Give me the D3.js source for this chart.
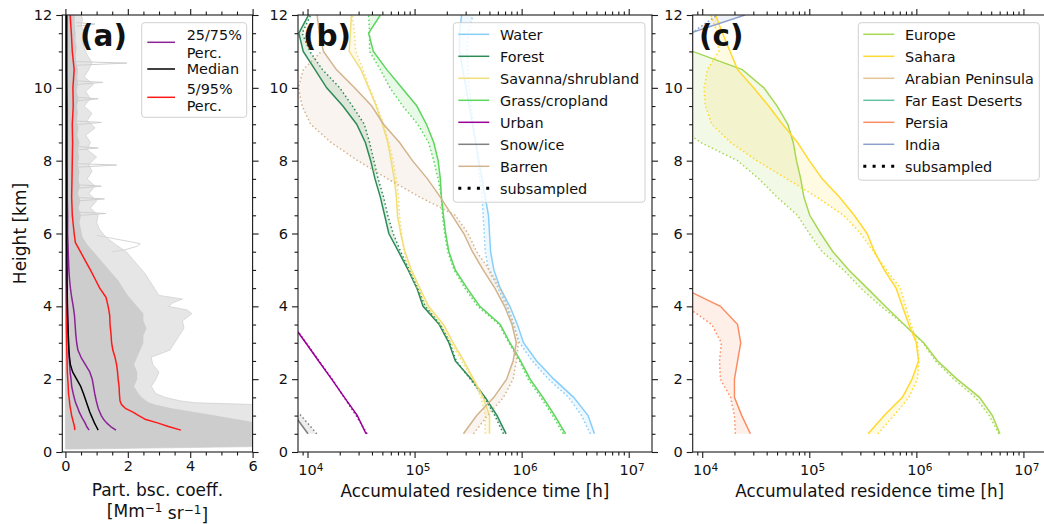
<!DOCTYPE html>
<html>
<head>
<meta charset="utf-8">
<script src="https://cdn.jsdelivr.net/npm/d3@7/dist/d3.min.js"></script>
<style>
  html, body { margin: 0; padding: 0; background: #fff; }
  svg { display: block; }
  text { font-family: "DejaVu Sans", sans-serif; fill: #111; }
</style>
</head>
<body>
<svg id="fig" width="1044" height="524"></svg>
<script>
// ---------------- (a) particle backscatter profiles ----------------
const pctHeights = [0.6,0.7,0.8,0.9,1.0,1.1,1.2,1.3,1.4,1.6,1.8,2.0,2.2,2.4,2.6,2.8,3.0,3.25,3.5,3.75,4.0,4.25,4.5,4.75,5.0,5.25,5.5,5.75,6.0,6.5,7,7.5,8,8.5,9,9.5,10,10.5,11,11.5,12];
const p95 = [3.70,3.30,2.95,2.55,2.35,2.15,1.92,1.80,1.75,1.73,1.72,1.69,1.67,1.64,1.59,1.52,1.48,1.46,1.43,1.42,1.37,1.30,1.10,0.95,0.80,0.64,0.48,0.32,0.28,0.22,0.20,0.21,0.22,0.23,0.22,0.25,0.24,0.28,0.22,0.19,0.15];
const p75 = [1.62,1.45,1.32,1.22,1.15,1.10,1.05,1.02,0.99,0.94,0.90,0.86,0.78,0.64,0.50,0.40,0.36,0.33,0.31,0.29,0.25,0.20,0.16,0.13,0.11,0.10,0.09,0.08,0.07,0.07,0.06,0.06,0.06,0.06,0.06,0.06,0.05,0.05,0.05,0.05,0.05];
const p50 = [1.05,0.99,0.93,0.88,0.83,0.78,0.74,0.70,0.66,0.58,0.49,0.36,0.23,0.16,0.13,0.11,0.10,0.09,0.08,0.07,0.065,0.06,0.055,0.05,0.05,0.045,0.045,0.04,0.04,0.04,0.04,0.04,0.035,0.035,0.035,0.035,0.035,0.03,0.03,0.03,0.03];
const p25 = [0.76,0.68,0.63,0.56,0.50,0.44,0.40,0.35,0.31,0.25,0.20,0.18,0.15,0.135,0.12,0.11,0.10,0.09,0.08,0.07,0.06,0.055,0.05,0.05,0.045,0.04,0.04,0.035,0.035,0.03,0.03,0.03,0.03,0.03,0.03,0.025,0.025,0.025,0.025,0.025,0.025];
const p5  = [0.30,0.29,0.26,0.23,0.20,0.18,0.16,0.14,0.13,0.10,0.09,0.075,0.06,0.055,0.05,0.045,0.04,0.035,0.03,0.03,0.03,0.025,0.025,0.02,0.02,0.02,0.02,0.02,0.02,0.015,0.015,0.015,0.015,0.015,0.015,0.015,0.015,0.015,0.015,0.015,0.015];

// envelope of the individual profiles (grey cloud)
const bgHeights = [0.08,0.15,0.3,0.5,0.8,1.0,1.2,1.3,1.35,1.4,1.5,1.6,1.8,2.0,2.2,2.4,2.6,2.8,3.0,3.2,3.4,3.6,3.8,3.9,4.0,4.1,4.2,4.3,4.5,4.7,4.9,5.1,5.3,5.5,5.7,5.9,6.1,6.3,6.5,6.7,6.9,7.1,7.3,7.5,7.7,7.9,8.1,8.3,8.5,8.7,8.9,9.1,9.3,9.5,9.7,9.9,10.1,10.3,10.5,10.7,10.9,11.1,11.3,11.5,11.7,11.9,12.0];
const bgOuter = [0.3,6.2,6.2,6.2,6.2,6.2,6.2,6.2,4.2,3.7,3.2,2.9,2.75,2.9,3.0,2.8,2.75,3.35,3.5,3.65,3.8,3.75,4.05,3.9,3.3,3.45,3.75,3.0,2.85,2.7,2.55,2.35,2.15,1.95,1.6,1.3,1.1,1.0,1.05,0.8,1.0,0.75,0.95,0.7,0.85,0.75,1.0,0.7,0.8,0.65,0.95,0.7,0.85,0.6,0.8,0.65,0.9,0.6,0.75,0.85,0.7,0.6,0.55,0.65,0.5,0.55,0.5];
const bgCore = [0.2,6.2,6.2,6.2,6.2,4.8,3.4,2.9,2.7,2.6,2.45,2.35,2.2,2.3,2.3,2.2,2.3,2.4,2.5,2.5,2.6,2.5,2.5,2.4,2.3,2.2,2.1,2.0,1.85,1.7,1.5,1.3,1.1,0.9,0.7,0.55,0.5,0.45,0.5,0.42,0.48,0.4,0.46,0.42,0.45,0.4,0.44,0.4,0.45,0.38,0.42,0.36,0.4,0.37,0.42,0.36,0.4,0.38,0.4,0.35,0.33,0.36,0.32,0.33,0.3,0.3,0.3];
// isolated single-profile excursions
const spikeH = [10.68,7.88,10.15,9.05,6.55,8.35,11.75,7.3,9.7,6.95];
const spikeV = [1.97,1.64,1.2,1.15,1.3,1.05,0.95,1.15,1.05,1.25];
const loopH = [5.95,5.85,5.78,5.72,5.65,5.55,5.5];
const loopV = [1.0,1.6,2.05,2.4,2.3,1.9,1.5];

// ---------------- (b) land-cover residence times [h] ----------------
const resHeights = [0.5,1,1.5,2,2.5,3,3.5,4,4.5,5,5.5,6,6.5,7,7.5,8,8.5,9,9.5,10,10.5,11,11.5,12];
const waterAll  = [4.79e6,4.17e6,3.06e6,2.0e6,1.38e6,1.04e6,9.12e5,7.76e5,6.31e5,5.5e5,5.13e5,5.01e5,4.9e5,4.57e5,4.27e5,3.98e5,3.72e5,3.47e5,3.24e5,3.02e5,2.82e5,2.63e5,2.63e5,2.75e5];
const waterSub  = [4.37e6,3.63e6,2.75e6,1.78e6,1.26e6,9.55e5,8.32e5,7.16e5,6.03e5,4.9e5,4.57e5,4.47e5,4.37e5,4.27e5,4.07e5,3.89e5,3.72e5,3.55e5,3.39e5,3.24e5,3.16e5,3.09e5,3.16e5,3.51e5];
const forestAll = [7.16e5,5.89e5,4.57e5,3.39e5,2.4e5,2.09e5,1.7e5,1.2e5,1.05e5,8.71e4,7.08e4,5.75e4,5.25e4,4.79e4,4.27e4,3.89e4,3.47e4,2.88e4,2.14e4,1.51e4,1.175e4,9120,8300,10230];
const forestSub = [6.76e5,5.62e5,4.47e5,3.31e5,2.45e5,2.14e5,1.74e5,1.26e5,1.07e5,8.91e4,7.41e4,6.31e4,5.62e4,5.13e4,4.57e4,4.17e4,3.8e4,3.39e4,2.63e4,2.0e4,1.38e4,1.05e4,8910,10720];
const savannaAll = [5.01e5,5.01e5,4.37e5,3.55e5,2.88e5,2.29e5,1.86e5,1.35e5,1.12e5,9.33e4,8.13e4,7.41e4,6.92e4,6.76e4,6.46e4,6.03e4,5.62e4,5.01e4,4.37e4,3.72e4,3.16e4,2.45e4,2.51e4,2.57e4];
const savannaSub = [4.57e5,4.57e5,4.17e5,3.47e5,2.75e5,2.19e5,1.74e5,1.29e5,1.07e5,8.91e4,7.94e4,7.59e4,7.24e4,7.08e4,6.76e4,6.31e4,5.75e4,5.13e4,4.47e4,3.8e4,3.31e4,2.82e4,2.75e4,2.63e4];
const grassAll = [2.57e6,2.04e6,1.58e6,1.2e6,9.77e5,7.76e5,6.31e5,4.07e5,3.09e5,2.4e5,2.09e5,1.95e5,1.86e5,1.78e5,1.74e5,1.66e5,1.51e5,1.29e5,1.05e5,7.59e4,5.5e4,4.12e4,3.72e4,4.79e4];
const grassSub = [2.45e6,1.95e6,1.51e6,1.15e6,9.55e5,7.59e5,6.17e5,3.89e5,2.95e5,2.34e5,2.04e5,1.91e5,1.82e5,1.78e5,1.66e5,1.51e5,1.35e5,1.07e5,7.76e4,5.89e4,4.79e4,3.8e4,3.8e4,3.72e4];
const urbanAll = [3.52e4,2.92e4,2.21e4,1.68e4,1.27e4,9620,7240,null,null,null,null,null,null,null,null,null,null,null,null,null,null,null,null,null];
const urbanSub = [3.6e4,2.85e4,2.2e4,1.7e4,1.28e4,9700,7300,null,null,null,null,null,null,null,null,null,null,null,null,null,null,null,null,null];
const snowAll = [10100,7590,null,null,null,null,null,null,null,null,null,null,null,null,null,null,null,null,null,null,null,null,null,null];
const snowSub = [12200,8710,5620,null,null,null,null,null,null,null,null,null,null,null,null,null,null,null,null,null,null,null,null,null];
const barrenAll = [2.86e5,3.8e5,5.5e5,7.24e5,8.32e5,8.91e5,8.13e5,6.92e5,5.62e5,4.37e5,3.47e5,2.88e5,2.24e5,1.74e5,1.32e5,9.55e4,7.24e4,5.13e4,3.98e4,2.75e4,1.86e4,1.41e4,1.29e4,1.23e4];
const barrenSub = [3.55e5,4.79e5,6.76e5,8.32e5,8.91e5,9.33e5,8.51e5,7.41e5,6.31e5,5.01e5,3.8e5,3.16e5,2.4e5,1.12e5,5.62e4,2.95e4,1.66e4,1.07e4,8910,8220,9120,1.35e4,null,null];

// ---------------- (c) source-region residence times [h] ----------------
const europeAll = [6.03e6,5.13e6,3.89e6,2.4e6,1.58e6,1.17e6,7.67e5,5.13e5,3.47e5,2.34e5,1.66e5,1.28e5,1.01e5,8.91e4,8.32e4,7.59e4,7.08e4,6.31e4,5.01e4,3.77e4,2.37e4,8130,null,null];
const europeSub = [5.89e6,4.79e6,3.55e6,2.24e6,1.51e6,1.15e6,7.67e5,4.68e5,3.02e5,2.09e5,1.32e5,1.0e5,7.76e4,5.01e4,3.39e4,2.14e4,9660,5620,2000,2000,2000,2000,null,null];
const saharaAll = [3.55e5,5.01e5,7.41e5,9.12e5,1.047e6,1.0e6,8.51e5,7.41e5,6.46e5,5.01e5,4.07e5,3.47e5,2.63e5,1.91e5,1.32e5,1.0e5,7.76e4,5.62e4,4.17e4,3.02e4,2.14e4,1.82e4,1.55e4,1.33e4];
const saharaSub = [4.37e5,6.17e5,8.51e5,1.023e6,1.059e6,1.023e6,8.91e5,7.94e5,7.08e5,5.25e5,3.98e5,3.02e5,2.09e5,1.175e5,6.17e4,3.24e4,1.84e4,1.23e4,1.07e4,1.04e4,1.12e4,1.43e4,1.38e4,1.2e4];
const persiaAll = [2.82e4,2.34e4,2.0e4,2.0e4,2.14e4,2.29e4,2.14e4,1.48e4,6610,null,null,null,null,null,null,null,null,null,null,null,null,null,null,null];
const persiaSub = [2.04e4,2.0e4,1.84e4,1.48e4,1.45e4,1.51e4,1.23e4,7080,3000,null,null,null,null,null,null,null,null,null,null,null,null,null,null,null];
const indiaAll = [null,null,null,null,null,null,null,null,null,null,null,null,null,null,null,null,null,null,null,null,null,null,7700,25100];
const indiaSub = [null,null,null,null,null,null,null,null,null,null,null,null,null,null,null,null,null,null,null,null,null,null,7940,13800];

const landCover = [
  {name:"Water", color:"#87cefa", all:waterAll, sub:waterSub},
  {name:"Forest", color:"#2e8b57", all:forestAll, sub:forestSub},
  {name:"Savanna/shrubland", color:"#f2de78", all:savannaAll, sub:savannaSub},
  {name:"Grass/cropland", color:"#5cd65c", all:grassAll, sub:grassSub},
  {name:"Urban", color:"#990099", all:urbanAll, sub:urbanSub},
  {name:"Snow/ice", color:"#808080", all:snowAll, sub:snowSub},
  {name:"Barren", color:"#d2b48c", all:barrenAll, sub:barrenSub}
];
const regions = [
  {name:"Europe", color:"#a6d854", all:europeAll, sub:europeSub},
  {name:"Sahara", color:"#ffd92f", all:saharaAll, sub:saharaSub},
  {name:"Arabian Peninsula", color:"#e5c494", all:null, sub:null},
  {name:"Far East Deserts", color:"#66c2a5", all:null, sub:null},
  {name:"Persia", color:"#fc8d62", all:persiaAll, sub:persiaSub},
  {name:"India", color:"#8da0cb", all:indiaAll, sub:indiaSub}
];

// ---------------- layout ----------------
const svg = d3.select("#fig");
const defs = svg.append("defs");
const yTop = 15, yBot = 452;
const A = {x0:62.3, x1:252.6}, B = {x0:298, x1:652}, C = {x0:692.7, x1:1046.7};
const y = d3.scaleLinear().domain([0,12]).range([yBot, yTop]);
const xa = d3.scaleLinear().domain([-0.1,6]).range([A.x0, A.x1]);
const xb = d3.scaleLog().domain([8150,1.65e7]).range([B.x0, B.x1]);
const xc = d3.scaleLog().domain([8150,1.65e7]).range([C.x0, C.x1]);

function clipFor(id, p){
  defs.append("clipPath").attr("id", id).append("rect")
    .attr("x", p.x0).attr("y", yTop).attr("width", p.x1 - p.x0).attr("height", yBot - yTop);
  return svg.append("g").attr("clip-path", `url(#${id})`);
}

const INK = "#1a1a1a";
function tidy(g, fs){
  g.attr("font-family", null).attr("font-size", null);
  g.select(".domain").remove();
  g.selectAll(".tick line").attr("stroke", INK).attr("stroke-width", 1.1);
  g.selectAll(".tick text").attr("fill", INK).style("font-size", (fs||14.5) + "px");
  return g;
}
const halfSteps = d3.range(0, 12.01, 0.5);
function yAxes(p, labels){
  const minors = halfSteps.filter(v => v % 2 !== 0);
  const majors = [0,2,4,6,8,10,12];
  tidy(svg.append("g").attr("transform", `translate(${p.x0},0)`)
    .call(d3.axisLeft(y).tickValues(minors).tickSize(3.5).tickFormat("")));
  tidy(svg.append("g").attr("transform", `translate(${p.x0},0)`)
    .call(d3.axisLeft(y).tickValues(majors).tickSize(6).tickPadding(4).tickFormat(labels ? d3.format("d") : "")));
  tidy(svg.append("g").attr("transform", `translate(${p.x1},0)`)
    .call(d3.axisRight(y).tickValues(minors).tickSize(3.5).tickFormat("")));
  tidy(svg.append("g").attr("transform", `translate(${p.x1},0)`)
    .call(d3.axisRight(y).tickValues(majors).tickSize(6).tickFormat("")));
}
function spines(p){
  svg.append("rect").attr("x", p.x0).attr("y", yTop).attr("width", p.x1 - p.x0).attr("height", yBot - yTop)
    .attr("fill", "none").attr("stroke", INK).attr("stroke-width", 1.1);
}

// ---------------- panel (a) ----------------
const gA = clipFor("clipA", A);
const bg = bgHeights.map((h,i) => ({h, core:bgCore[i], outer:bgOuter[i]}));
gA.append("path").datum(bg).attr("fill", "#e6e6e6").attr("stroke", "#d2d2d2").attr("stroke-width", 0.8)
  .attr("d", d3.area().y(d => y(d.h)).x0(xa(0)).x1(d => xa(d.outer)));
gA.append("path").datum(bg).attr("fill", "#cdcdcd")
  .attr("d", d3.area().y(d => y(d.h)).x0(xa(0)).x1(d => xa(d.core)));
const spikeLine = d3.line().x(d => xa(d[0])).y(d => y(d[1]));
spikeH.forEach((h,i) => {
  gA.append("path").attr("fill", "none").attr("stroke", "#cfcfcf").attr("stroke-width", 1)
    .attr("d", spikeLine([[0.35, h - 0.06], [spikeV[i], h], [0.35, h + 0.04]]));
});
gA.append("path").attr("fill", "none").attr("stroke", "#d6d6d6").attr("stroke-width", 1)
  .attr("d", spikeLine(loopH.map((h,i) => [loopV[i], h])));

const pLine = d3.line().x(d => xa(d[0])).y(d => y(d[1]));
const pct = (arr) => arr.map((v,i) => [v, pctHeights[i]]);
[[p5,"#ff1a1a"],[p95,"#ff1a1a"],[p25,"#8b2296"],[p75,"#8b2296"],[p50,"#000000"]].forEach(([arr,c]) => {
  gA.append("path").attr("fill", "none").attr("stroke", c).attr("stroke-width", 1.5)
    .attr("stroke-linejoin", "round").attr("d", pLine(pct(arr)));
});

const xMinorA = d3.range(0, 6.01, 0.5).filter(v => v % 2 !== 0);
tidy(svg.append("g").attr("transform", `translate(0,${yBot})`)
  .call(d3.axisBottom(xa).tickValues(xMinorA).tickSize(3.5).tickFormat("")));
tidy(svg.append("g").attr("transform", `translate(0,${yBot})`)
  .call(d3.axisBottom(xa).tickValues([0,2,4,6]).tickSize(6).tickPadding(2.5).tickFormat(d3.format("d"))));
tidy(svg.append("g").attr("transform", `translate(0,${yTop})`)
  .call(d3.axisTop(xa).tickValues(xMinorA).tickSize(3.5).tickFormat("")));
tidy(svg.append("g").attr("transform", `translate(0,${yTop})`)
  .call(d3.axisTop(xa).tickValues([0,2,4,6]).tickSize(6).tickFormat("")));
yAxes(A, true);
spines(A);

// ---------------- log panels (b) and (c) ----------------
const majorsLog = [1e4,1e5,1e6,1e7];
const minorsLog = [];
[1e3,1e4,1e5,1e6,1e7].forEach(dec => { for (let k = 2; k <= 9; k++) minorsLog.push(k * dec); });

function logAxes(x, p){
  const mn = minorsLog.filter(v => v >= x.domain()[0] && v <= x.domain()[1]);
  tidy(svg.append("g").attr("transform", `translate(0,${yBot})`)
    .call(d3.axisBottom(x).tickValues(mn).tickSize(3.5).tickFormat("")));
  const gMaj = tidy(svg.append("g").attr("transform", `translate(0,${yBot})`)
    .call(d3.axisBottom(x).tickValues(majorsLog).tickSize(6).tickPadding(2).tickFormat("")));
  gMaj.selectAll(".tick text").each(function(d){
    const t = d3.select(this).attr("dy", "1.05em").attr("dx", "0.2em");
    t.append("tspan").text("10");
    t.append("tspan").attr("dy", "-0.42em").style("font-size", "10.5px").text(Math.round(Math.log10(d)));
  });
  tidy(svg.append("g").attr("transform", `translate(0,${yTop})`)
    .call(d3.axisTop(x).tickValues(mn).tickSize(3.5).tickFormat("")));
  tidy(svg.append("g").attr("transform", `translate(0,${yTop})`)
    .call(d3.axisTop(x).tickValues(majorsLog).tickSize(6).tickFormat("")));
  yAxes(p, true);
  spines(p);
}

function drawSeries(g, x, list){
  const rows = s => resHeights.map((h,i) => ({h, a:s.all[i], s:s.sub[i]}));
  list.filter(s => s.all).forEach(s => {
    g.append("path").datum(rows(s)).attr("fill", s.color).attr("fill-opacity", 0.14)
      .attr("d", d3.area().defined(d => d.a != null && d.s != null)
        .y(d => y(d.h)).x0(d => x(d.a)).x1(d => x(d.s)));
  });
  list.filter(s => s.all).forEach(s => {
    g.append("path").datum(rows(s)).attr("fill", "none").attr("stroke", s.color).attr("stroke-width", 1.5)
      .attr("d", d3.line().defined(d => d.a != null).x(d => x(d.a)).y(d => y(d.h)));
    g.append("path").datum(rows(s)).attr("fill", "none").attr("stroke", s.color).attr("stroke-width", 1.5)
      .attr("stroke-dasharray", "1.5,2.5")
      .attr("d", d3.line().defined(d => d.s != null).x(d => x(d.s)).y(d => y(d.h)));
  });
}

const gB = clipFor("clipB", B);
drawSeries(gB, xb, landCover);
logAxes(xb, B);

const gC = clipFor("clipC", C);
drawSeries(gC, xc, regions);
logAxes(xc, C);

// ---------------- axis titles ----------------
svg.append("text").attr("transform", `translate(26,${(yTop + yBot) / 2}) rotate(-90)`)
  .attr("text-anchor", "middle").style("font-size", "17px").text("Height [km]");
svg.append("text").attr("x", (A.x0 + A.x1) / 2).attr("y", 496).attr("text-anchor", "middle")
  .style("font-size", "17px").text("Part. bsc. coeff.");
const tA2 = svg.append("text").attr("x", (A.x0 + A.x1) / 2).attr("y", 517).attr("text-anchor", "middle").style("font-size", "17px");
tA2.append("tspan").text("[Mm");
tA2.append("tspan").attr("dy", "-0.42em").style("font-size", "12px").text("\u22121");
tA2.append("tspan").attr("dy", "0.42em").text(" sr");
tA2.append("tspan").attr("dy", "-0.42em").style("font-size", "12px").text("\u22121");
tA2.append("tspan").attr("dy", "0.42em").text("]");
[B, C].forEach(p => {
  svg.append("text").attr("x", p.x0 + (B.x1 - B.x0) / 2).attr("y", 497).attr("text-anchor", "middle")
    .style("font-size", "16.8px").text("Accumulated residence time [h]");
});

// ---------------- panel letters ----------------
[["(a)", 80], ["(b)", 303], ["(c)", 699]].forEach(([t, x]) => {
  svg.append("text").attr("x", x).attr("y", 46).style("font-size", "29.5px").style("font-weight", "bold").text(t);
});

// ---------------- legends ----------------
function legendBox(x, yb, w, h){
  svg.append("rect").attr("x", x).attr("y", yb).attr("width", w).attr("height", h).attr("rx", 3)
    .attr("fill", "#fff").attr("fill-opacity", 0.8).attr("stroke", "#d0d0d0").attr("stroke-width", 1);
}
// (a)
legendBox(141.7, 22.7, 105, 94.6);
const legA = [
  {color:"#8b2296", lines:["25/75%","Perc."], ly:42.3, ty:[40.3,57.6]},
  {color:"#000000", lines:["Median"], ly:69, ty:[74.3]},
  {color:"#ff1a1a", lines:["5/95%","Perc."], ly:97.3, ty:[94.3,111]}
];
legA.forEach(e => {
  svg.append("line").attr("x1", 147.3).attr("x2", 175).attr("y1", e.ly).attr("y2", e.ly)
    .attr("stroke", e.color).attr("stroke-width", 1.5);
  e.lines.forEach((t,i) => svg.append("text").attr("x", 186.7).attr("y", e.ty[i]).style("font-size", "14.4px").text(t));
});
// (b) and (c)
function seriesLegend(x, yb, w, list){
  const n = list.length + 1;
  legendBox(x, yb, w, 22 * n + 3.5);
  const rows = list.map(s => ({name:s.name, color:s.color, dotted:false}))
    .concat([{name:"subsampled", color:"#000", dotted:true}]);
  rows.forEach((r,i) => {
    const cy = yb + 11.6 + 22 * i;
    const ln = svg.append("line").attr("x1", x + 5).attr("x2", x + 36).attr("y1", cy).attr("y2", cy)
      .attr("stroke", r.color).attr("stroke-width", r.dotted ? 3 : 1.5);
    if (r.dotted) ln.attr("stroke-dasharray", "3,6.3");
    svg.append("text").attr("x", x + 46.7).attr("y", cy + 5.2).style("font-size", "14.4px").text(r.name);
  });
}
seriesLegend(453.3, 22.7, 191.7, landCover);
seriesLegend(858.3, 22.7, 181, regions);
</script>
</body>
</html>
